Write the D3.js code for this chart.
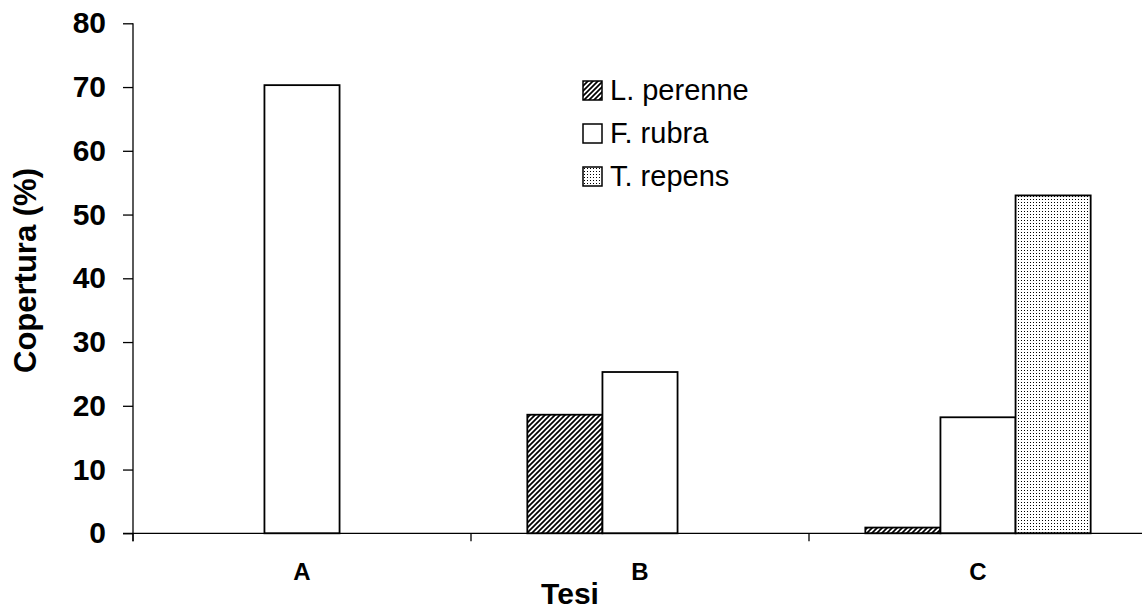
<!DOCTYPE html>
<html>
<head>
<meta charset="utf-8">
<script src="https://cdn.jsdelivr.net/npm/d3@7"></script>
<style>
  html, body { margin: 0; padding: 0; background: #fff; }
  svg { display: block; font-family: "Liberation Sans", Arial, sans-serif; }
</style>
</head>
<body>
<svg id="chart" width="1142" height="610"></svg>
<script>
const categories = ["A", "B", "C"];
const seriesNames = ["L. perenne", "F. rubra", "T. repens"];
const lPerenne = [0, 18.6, 0.9];
const fRubra = [70.3, 25.3, 18.2];
const tRepens = [0, 0, 53.0];
const yTicks = [0, 10, 20, 30, 40, 50, 60, 70, 80];
const xTitle = "Tesi";
const yTitle = "Copertura (%)";

(function () {
const seriesValues = [lPerenne, fRubra, tRepens];
const fills = ["url(#hatch)", "#ffffff", "url(#dots)"];

const svg = d3.select("#chart");
const mLeft = 133, mRight = 1147, mTop = 23.3, mBottom = 533.3;

const defs = svg.append("defs");
const hatch = defs.append("pattern").attr("id", "hatch")
  .attr("patternUnits", "userSpaceOnUse").attr("width", 5).attr("height", 5);
hatch.append("rect").attr("width", 5).attr("height", 5).attr("fill", "#fff");
hatch.append("path").attr("d", "M0,5 L5,0 M-1,1 L1,-1 M4,6 L6,4")
  .attr("stroke", "#000").attr("stroke-width", 1.7);
const dots = defs.append("pattern").attr("id", "dots")
  .attr("patternUnits", "userSpaceOnUse").attr("width", 3).attr("height", 3);
dots.append("rect").attr("width", 3).attr("height", 3).attr("fill", "#fff");
dots.append("rect").attr("x", 1).attr("y", 1).attr("width", 1).attr("height", 1).attr("fill", "#000");

const y = d3.scaleLinear().domain([0, 80]).range([mBottom, mTop]);
const x0 = d3.scaleBand().domain(categories).range([mLeft, mRight]).padding(0);
const bw = x0.bandwidth();
const x1 = d3.scaleBand().domain(seriesNames).range([bw / 6, bw * 5 / 6]).padding(0);

// bars
const data = [];
categories.forEach((c, i) => {
  seriesNames.forEach((s, j) => {
    data.push({ cat: c, ser: s, v: seriesValues[j][i], fill: fills[j] });
  });
});
svg.append("g").selectAll("rect").data(data.filter(d => d.v > 0)).join("rect")
  .attr("x", d => x0(d.cat) + x1(d.ser))
  .attr("y", d => y(d.v))
  .attr("width", x1.bandwidth())
  .attr("height", d => y(0) - y(d.v))
  .attr("fill", d => d.fill)
  .attr("stroke", "#000")
  .attr("stroke-width", 1.8);

// y axis
const yAxis = svg.append("g").attr("transform", `translate(${mLeft},0)`)
  .call(d3.axisLeft(y).tickValues(yTicks).tickSize(10).tickPadding(17).tickFormat(d3.format("d")));
yAxis.select(".domain").remove();
yAxis.selectAll("line").attr("stroke", "#000").attr("stroke-width", 1.3);
yAxis.selectAll("text").attr("font-size", 30).attr("font-weight", "bold").attr("fill", "#000");
svg.append("line").attr("x1", mLeft).attr("x2", mLeft).attr("y1", y(80)).attr("y2", mBottom + 8)
  .attr("stroke", "#000").attr("stroke-width", 1.3);

// x axis line
svg.append("line").attr("x1", mLeft - 10).attr("x2", mRight).attr("y1", mBottom).attr("y2", mBottom)
  .attr("stroke", "#000").attr("stroke-width", 1.3);
// boundary ticks
const bounds = categories.map(c => x0(c)).concat([x0(categories[categories.length - 1]) + bw]);
svg.append("g").selectAll("line").data(bounds).join("line")
  .attr("x1", d => d).attr("x2", d => d).attr("y1", mBottom).attr("y2", mBottom + 8)
  .attr("stroke", "#000").attr("stroke-width", 1.3);

// category labels
const xAxis = svg.append("g").attr("transform", `translate(0,${mBottom})`)
  .call(d3.axisBottom(x0).tickSize(0).tickPadding(30));
xAxis.select(".domain").remove();
xAxis.selectAll("text").attr("font-size", 24).attr("font-weight", "bold").attr("fill", "#000");

// titles
svg.append("text").attr("x", 570).attr("y", 604).attr("text-anchor", "middle")
  .attr("font-size", 30).attr("font-weight", "bold").text(xTitle);
svg.append("text").attr("transform", "translate(36,270.5) rotate(-90)").attr("text-anchor", "middle")
  .attr("font-size", 31).attr("font-weight", "bold").text(yTitle);

// legend
const leg = svg.append("g").attr("transform", "translate(583,81)");
seriesNames.forEach((s, j) => {
  const g = leg.append("g").attr("transform", `translate(0,${j * 43})`);
  g.append("rect").attr("width", 19).attr("height", 19)
    .attr("fill", fills[j]).attr("stroke", "#000").attr("stroke-width", 1.5);
  g.append("text").attr("x", 27).attr("y", 19).attr("font-size", 29).attr("fill", "#000").text(s);
});
})();
</script>
</body>
</html>
